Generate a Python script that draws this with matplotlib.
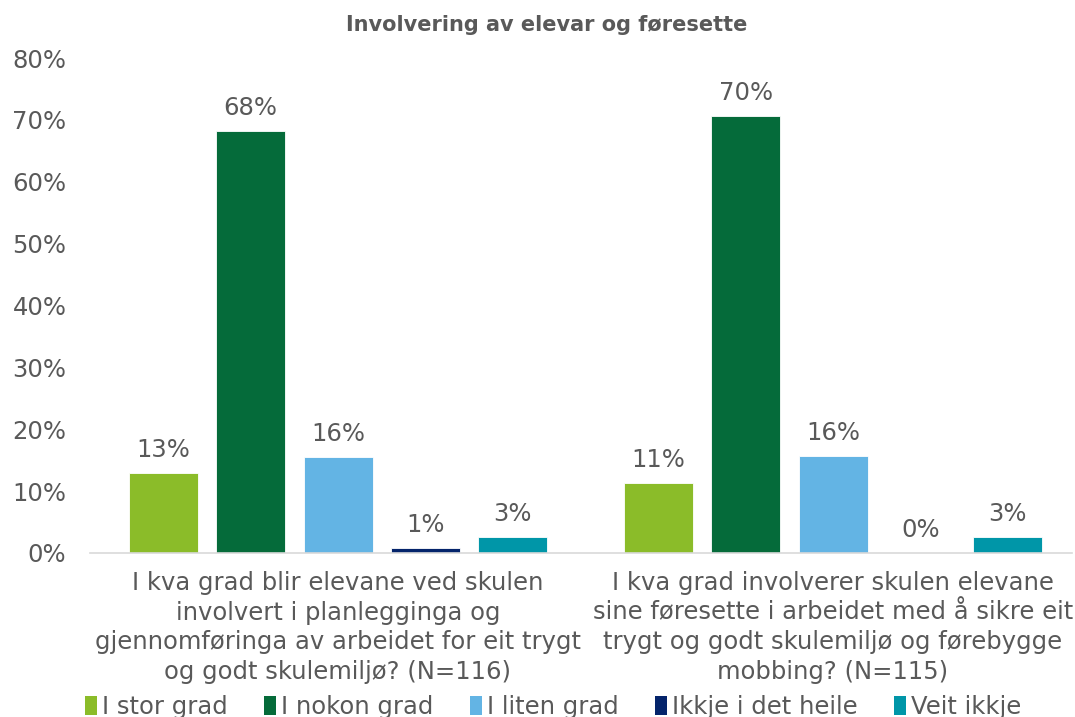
import matplotlib
matplotlib.use("Agg")
import matplotlib.pyplot as plt
from matplotlib.patches import Patch
from matplotlib.transforms import blended_transform_factory

plt.rcParams['font.family'] = ['DejaVu Sans']

title = "Involvering av elevar og føresette"
categories = [
    "I kva grad blir elevane ved skulen\ninvolvert i planlegginga og\ngjennomføringa av arbeidet for eit trygt\nog godt skulemiljø? (N=116)",
    "I kva grad involverer skulen elevane\nsine føresette i arbeidet med å sikre eit\ntrygt og godt skulemiljø og førebygge\nmobbing? (N=115)",
]
series = ["I stor grad", "I nokon grad", "I liten grad", "Ikkje i det heile", "Veit ikkje"]
values = [
    [0.129, 0.113],
    [0.682, 0.706],
    [0.155, 0.157],
    [0.008, 0.0],
    [0.026, 0.026],
]
labels = [
    ["13%", "11%"],
    ["68%", "70%"],
    ["16%", "16%"],
    ["1%", "0%"],
    ["3%", "3%"],
]
colors = ["#8BBC29", "#056B3A", "#63B4E4", "#04246B", "#0096A8"]
yticks = [0, 0.1, 0.2, 0.3, 0.4, 0.5, 0.6, 0.7, 0.8]
yticklabels = ["0%", "10%", "20%", "30%", "40%", "50%", "60%", "70%", "80%"]

W, H = 1075, 717
fig = plt.figure(figsize=(W / 100, H / 100), dpi=100)
ax = fig.add_axes([90 / W, 1 - 553 / H, (1072 - 90) / W, (553 - 58) / H])

text_color = "#595959"
fs = 17.5
step = 87.3 / 495
width = 69 / 495
for i, (name, vals, labs, c) in enumerate(zip(series, values, labels, colors)):
    xs = [g + (i - 2) * step for g in range(len(categories))]
    ax.bar(xs, vals, width=width, color=c, edgecolor="white", linewidth=0.6, label=name)
    for x, v, l in zip(xs, vals, labs):
        ax.annotate(l, (x, v), xytext=(0, 8), textcoords="offset points",
                    ha="center", va="bottom", fontsize=fs, color=text_color)

ax.set_xlim((90 - 338) / 495, (1072 - 338) / 495)
ax.set_ylim(0, 0.8)
ax.set_yticks(yticks)
ax.set_yticklabels(yticklabels, fontsize=fs, color=text_color)
ax.tick_params(axis="y", length=0, pad=17)
ax.set_xticks([])
for s in ["top", "right", "left"]:
    ax.spines[s].set_visible(False)
ax.spines["bottom"].set_color("#D9D9D9")
ax.spines["bottom"].set_linewidth(1.2)

trans = blended_transform_factory(ax.transData, fig.transFigure)
for g, cat in enumerate(categories):
    ax.text(g, 1 - 571 / H, cat, transform=trans, ha="center", va="top",
            fontsize=fs, color=text_color, linespacing=1.3)

fig.text(547 / W, 1 - 25 / H, title, ha="center", va="center",
         fontsize=15, fontweight="bold", color=text_color)

handles = [Patch(facecolor=c, edgecolor="none") for c in colors]
leg = fig.legend(handles, series, loc="center", bbox_to_anchor=(553 / W, 1 - 707 / H),
                 ncol=5, frameon=False, fontsize=fs, handlelength=0.5, handleheight=0.85,
                 handletextpad=0.2, columnspacing=1.5, labelcolor=text_color,
                 borderaxespad=0, borderpad=0)

fig.savefig("out.png", dpi=100)
